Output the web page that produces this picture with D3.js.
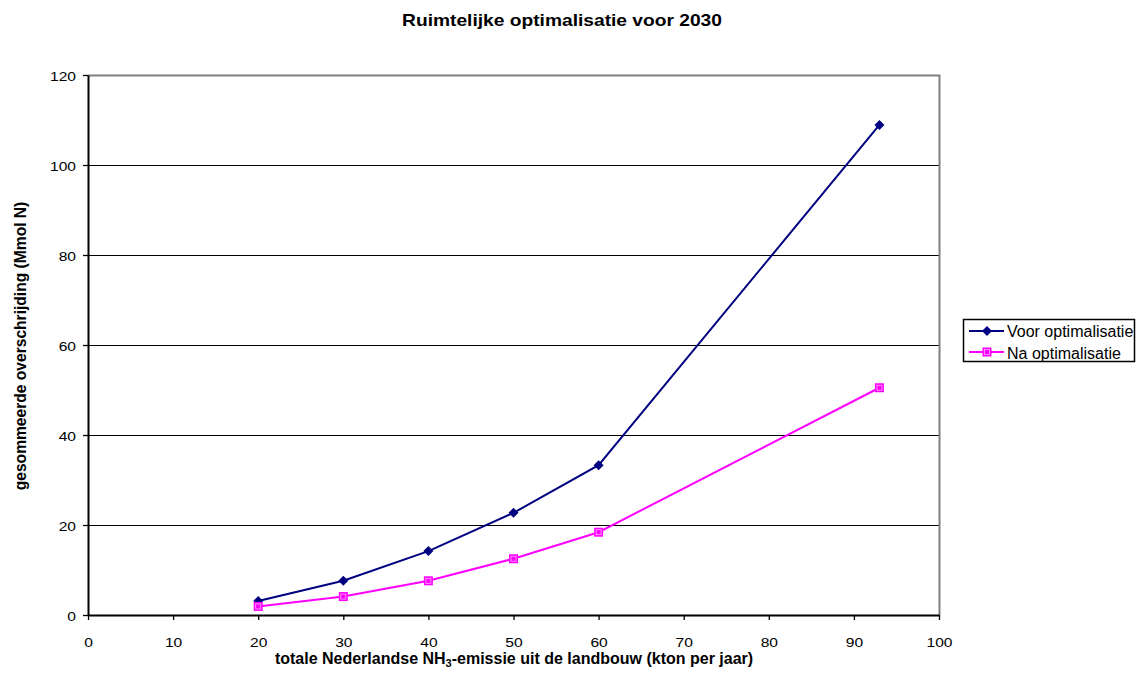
<!DOCTYPE html>
<html>
<head>
<meta charset="utf-8">
<script src="https://cdn.jsdelivr.net/npm/d3@7"></script>
<style>
  html, body { margin: 0; padding: 0; background: #fff; }
  svg { display: block; font-family: "Liberation Sans", Arial, sans-serif; }
</style>
</head>
<body>
<svg id="chart" width="1136" height="675"></svg>
<script>
// Emission levels (kton NH3 per year)
const emissions = [20, 30, 40, 50, 60, 93];
// Summed exceedance (Mmol N) before and after spatial optimisation
const voorOptimalisatie = [3.1, 7.6, 14.2, 22.7, 33.3, 108.9];
const naOptimalisatie = [1.9, 4.1, 7.6, 12.5, 18.4, 50.5];
const xTicks = [0, 10, 20, 30, 40, 50, 60, 70, 80, 90, 100];
const yTicks = [0, 20, 40, 60, 80, 100, 120];
const seriesNames = ["Voor optimalisatie", "Na optimalisatie"];

const svg = d3.select("#chart");
const plot = { left: 88, right: 939, top: 75, bottom: 615 };
const wide = 1.2; // horizontal stretch of the tick and title lettering

const x = d3.scaleLinear().domain([0, 100]).range([plot.left, plot.right]);
const y = d3.scaleLinear().domain([0, 120]).range([plot.bottom, plot.top]);

// Title
svg.append("text")
  .attr("transform", `translate(562,26) scale(${wide},1)`)
  .attr("text-anchor", "middle")
  .attr("font-size", 16).attr("font-weight", "bold")
  .text("Ruimtelijke optimalisatie voor 2030");

// Horizontal gridlines
svg.append("g").selectAll("line")
  .data(yTicks.filter(d => d > 0 && d < 120))
  .join("line")
  .attr("x1", plot.left).attr("x2", plot.right)
  .attr("y1", d => Math.round(y(d)) + 0.5).attr("y2", d => Math.round(y(d)) + 0.5)
  .attr("stroke", "#000").attr("stroke-width", 1);

// Plot frame (top and right in gray)
svg.append("path")
  .attr("d", `M${plot.left},${plot.top + 0.5}H${plot.right + 0.5}V${plot.bottom}`)
  .attr("fill", "none").attr("stroke", "#808080").attr("stroke-width", 2);

// Axes
const xAxis = d3.axisBottom(x).tickValues(xTicks).tickSize(5).tickSizeOuter(0);
const yAxis = d3.axisLeft(y).tickValues(yTicks).tickSize(5).tickSizeOuter(0);

const gx = svg.append("g").attr("transform", `translate(0,${plot.bottom})`).call(xAxis);
const gy = svg.append("g").attr("transform", `translate(${plot.left},0)`).call(yAxis);
[gx, gy].forEach(g => {
  g.select(".domain").attr("stroke", "#000").attr("stroke-width", 2);
  g.selectAll(".tick line").attr("stroke", "#000").attr("stroke-width", 1.3);
  g.selectAll(".tick text").attr("font-size", 13).attr("fill", "#000")
    .attr("font-family", "Liberation Sans, Arial, sans-serif");
});
gx.selectAll(".tick text")
  .attr("y", 0).attr("dy", null)
  .attr("transform", `translate(0,32) scale(${wide},1)`);
gy.selectAll(".tick text")
  .attr("x", 0).attr("dy", "0.35em")
  .attr("transform", `translate(-12,1) scale(${wide},1)`);

// Axis titles
const xTitle = svg.append("text")
  .attr("x", 514).attr("y", 664)
  .attr("text-anchor", "middle")
  .attr("font-size", 16).attr("font-weight", "bold");
xTitle.append("tspan").text("totale Nederlandse NH");
xTitle.append("tspan").attr("font-size", 11).attr("dy", 3).text("3");
xTitle.append("tspan").attr("dy", -3).text("-emissie uit de landbouw (kton per jaar)");

svg.append("text")
  .attr("transform", "translate(26,346) rotate(-90)")
  .attr("text-anchor", "middle")
  .attr("font-size", 15.6).attr("font-weight", "bold")
  .text("gesommeerde overschrijding (Mmol N)");

// Series
const line = d3.line().x(d => x(d[0])).y(d => y(d[1]));
const voorPts = emissions.map((e, i) => [e, voorOptimalisatie[i]]);
const naPts = emissions.map((e, i) => [e, naOptimalisatie[i]]);

svg.append("path").datum(voorPts).attr("d", line)
  .attr("fill", "none").attr("stroke", "#000080").attr("stroke-width", 2);
svg.append("path").datum(naPts).attr("d", line)
  .attr("fill", "none").attr("stroke", "#ff00ff").attr("stroke-width", 2);

function diamond(g, cx, cy) {
  g.append("path")
    .attr("d", `M${cx},${cy - 5}L${cx + 5},${cy}L${cx},${cy + 5}L${cx - 5},${cy}Z`)
    .attr("fill", "#000080");
}
function square(g, cx, cy) {
  g.append("rect").attr("x", cx - 4.5).attr("y", cy - 4.5).attr("width", 9).attr("height", 9)
    .attr("fill", "#ff00ff");
  g.append("rect").attr("x", cx - 2.5).attr("y", cy - 2.5).attr("width", 5).attr("height", 5)
    .attr("fill", "none").attr("stroke", "#ffb0ff").attr("stroke-width", 0.8);
}

const markers = svg.append("g");
voorPts.forEach(d => diamond(markers, x(d[0]), y(d[1])));
naPts.forEach(d => square(markers, x(d[0]), y(d[1])));

// Legend
const lg = svg.append("g");
lg.append("rect").attr("x", 963.5).attr("y", 319.5).attr("width", 171).attr("height", 42)
  .attr("fill", "#fff").attr("stroke", "#000").attr("stroke-width", 1.5);
const legendItems = [
  { name: seriesNames[0], color: "#000080", marker: diamond, yy: 331, base: 337 },
  { name: seriesNames[1], color: "#ff00ff", marker: square, yy: 352, base: 358.5 }
];
legendItems.forEach(it => {
  lg.append("line").attr("x1", 969).attr("x2", 1004).attr("y1", it.yy).attr("y2", it.yy)
    .attr("stroke", it.color).attr("stroke-width", 2);
  it.marker(lg, 987, it.yy);
  lg.append("text").attr("x", 1007).attr("y", it.base)
    .attr("font-size", 16).text(it.name);
});
</script>
</body>
</html>
